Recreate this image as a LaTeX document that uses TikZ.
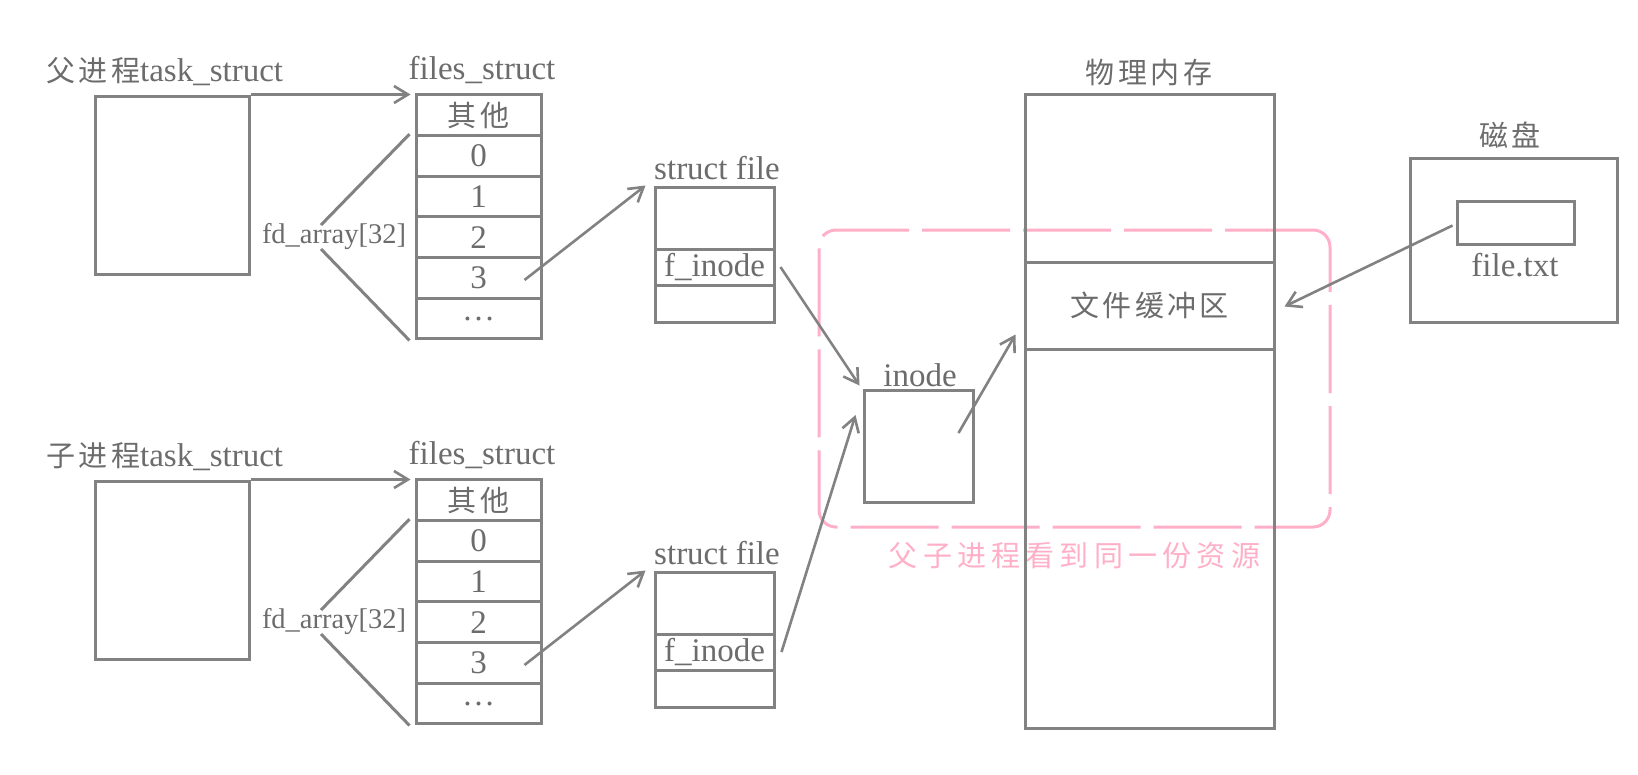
\documentclass[tikz,border=0pt]{standalone}
\usepackage{fontspec}
\setmainfont{Liberation Serif}
\newfontfamily\cjk[LetterSpace=12]{Noto Sans CJK SC}
\newfontfamily\cjkwide[LetterSpace=18]{Noto Sans CJK SC}
\usetikzlibrary{arrows.meta,positioning}
\definecolor{fgray}{HTML}{828282}
\definecolor{ftext}{HTML}{6C6C6C}
\definecolor{fpink}{HTML}{FFB0C8}
\newcommand\zhtxt[1]{{\cjk\fontsize{29}{34}\selectfont #1}}
\tikzset{
  box/.style    = {draw=fgray, line width=3pt, rectangle, inner sep=0pt,
                   text=ftext, font=\fontsize{33}{38}\selectfont},
  cell/.style   = {box, minimum width=125pt, minimum height=40.67pt},
  sfcell/.style = {box, minimum width=119pt},
  memcell/.style= {box, minimum width=249pt},
  lbl/.style    = {text=ftext, inner sep=0pt, font=\fontsize{33}{38}\selectfont},
  wire/.style   = {draw=fgray, line width=3pt},
  ptr/.style    = {-{Straight Barb[length=14pt,width=17pt]}, draw=fgray, line width=2.6pt},
  share/.style  = {draw=fpink, line width=3pt, rounded corners=17pt,
                   dash pattern=on 88pt off 13pt, inner sep=0pt},
}
\begin{document}
\begin{tikzpicture}[x=1pt,y=-1pt]
\useasboundingbox (0,0) rectangle (1638,774);
\fill[white] (0,0) rectangle (1638,774);
% parent and child process: task_struct, files_struct, struct file
\foreach \p/\dy/\who in {par/0/父, chd/385/子}{
  \node[box, minimum width=154pt, minimum height=178pt] (\p-task) at (172,185+\dy) {};
  \node[lbl, anchor=west] at (46,72+\dy) {\zhtxt{\who{}进程}task\_struct};
  \foreach \i/\t in {0/\zhtxt{其他},1/0,2/1,3/2,4/3,5/\textellipsis}
    \node[cell] (\p-f\i) at (478.5,115.3+40.67*\i+\dy) {\t};
  \node[lbl] at (482,70+\dy) {files\_struct};
  \node[lbl, font=\fontsize{28.5}{32}\selectfont] (\p-fd) at (334,237+\dy) {fd\_array[32]};
  \draw[wire] ([xshift=-5pt]\p-f1.north west) -- ([xshift=-13pt,yshift=12pt]\p-fd.center);
  \draw[wire] ([xshift=-13pt,yshift=-12pt]\p-fd.center) -- ([xshift=-5pt]\p-f5.south west);
  \node[sfcell, minimum height=62pt] (\p-st) at (714.5,218+\dy) {};
  \node[sfcell, minimum height=36pt] (\p-fi) at (714.5,267+\dy) {f\_inode};
  \node[sfcell, minimum height=37pt] (\p-sb) at (714.5,303.5+\dy) {};
  \node[lbl] at (717,168+\dy) {struct file};
  \draw[ptr, shorten >=4pt] (\p-task.north east) -- (\p-task.north east -| \p-f0.west);
  \draw[ptr] ([xshift=46pt,yshift=-2pt]\p-f4.center) -- ([xshift=-8pt]\p-st.north west);
}
% shared region
\node[share, minimum width=511pt, minimum height=297pt] (share) at (1074.5,378.5) {};
\node[lbl, text=fpink, below=14pt of share] {\cjkwide\fontsize{29}{34}\selectfont 父子进程看到同一份资源};
% inode
\node[box, minimum width=109pt, minimum height=112pt] (inode) at (918.5,446) {};
\node[lbl] at (920,375) {inode};
% physical memory
\node[memcell, minimum height=168pt] (memtop) at (1149.5,178) {};
\node[memcell, minimum height=87pt] (buf) at (1149.5,305.5) {\zhtxt{文件缓冲区}};
\node[memcell, minimum height=379pt] (membot) at (1149.5,538.5) {};
\node[lbl] at (1149,73) {\zhtxt{物理内存}};
% disk
\node[box, minimum width=207pt, minimum height=164pt] (disk) at (1513.5,240) {};
\node[box, minimum width=117pt, minimum height=43pt] (ftxt) at (1515.5,222.5) {};
\node[lbl] at (1510,135) {\zhtxt{磁盘}};
\node[lbl] at (1515,265) {file.txt};
% pointers
\draw[ptr] ([xshift=5pt]par-fi.east) -- ([xshift=-3pt,yshift=3pt]inode.north west);
\draw[ptr] ([xshift=6pt]chd-fi.east) -- ([xshift=-7pt,yshift=31pt]inode.west);
\draw[ptr] ([xshift=40pt,yshift=13pt]inode.center) -- ([xshift=-8pt,yshift=-29pt]buf.west);
\draw[ptr] ([xshift=-3pt,yshift=-3pt]ftxt.west) -- ([xshift=9pt,yshift=-1pt]buf.east);
\end{tikzpicture}
\end{document}
